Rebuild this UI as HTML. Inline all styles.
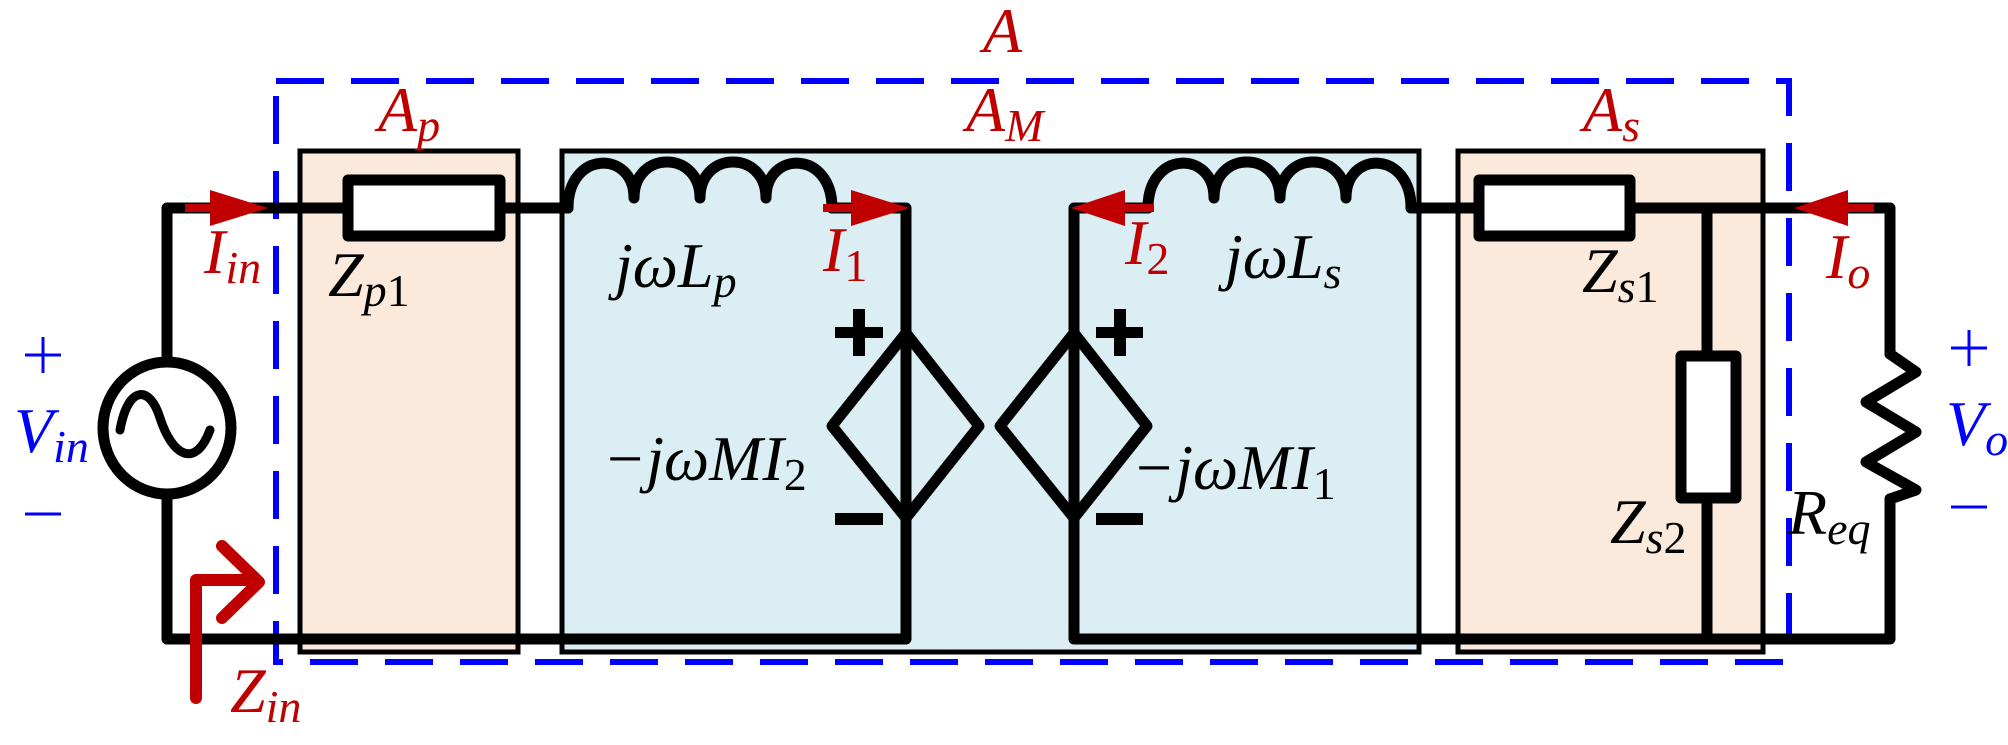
<!DOCTYPE html>
<html><head><meta charset="utf-8"><style>
html,body{margin:0;padding:0;background:#fff;}
svg{display:block;}
svg text{font-family:"Liberation Serif","DejaVu Serif",serif;}
</style></head><body>
<svg width="2008" height="745" viewBox="0 0 2008 745" xmlns="http://www.w3.org/2000/svg">
<rect x="300" y="151" width="218" height="501" fill="#fbe9dc" stroke="#000" stroke-width="5"/>
<rect x="562" y="151" width="857" height="501" fill="#dbeef4" stroke="#000" stroke-width="5"/>
<rect x="1458" y="151" width="305" height="501" fill="#fbe9dc" stroke="#000" stroke-width="5"/>
<rect x="276" y="81" width="1513" height="581" fill="none" stroke="#0000ff" stroke-width="6" stroke-dasharray="48,27"/>
<g stroke="#000" stroke-width="11" fill="none" stroke-linecap="round" stroke-linejoin="round">
<polyline points="167,361 167,208 348,208"/>
<line x1="500" y1="208" x2="568" y2="208"/>
<path d="M568,208 C568,150 634,150 634,198 C634,150 700,150 700,198 C700,150 766,150 766,198 C766,150 832,150 832,208"/>
<polyline points="832,208 906,208 906,639 167,639 167,494"/>
<rect x="348" y="180" width="152" height="56" fill="#fff"/>
<ellipse cx="167" cy="428" rx="64" ry="66" fill="#fff"/>
<path d="M120,430 C128,385 150,385 160,418 C172,455 195,470 210,430" stroke-width="9"/>
<polygon points="906,333 979,426 906,518 832,426"/>
<polyline points="1148,208 1074,208 1074,639 1890,639 1890,499"/>
<path d="M1148,208 C1148,150 1214,150 1214,198 C1214,150 1280,150 1280,198 C1280,150 1346,150 1346,198 C1346,150 1411,150 1411,208"/>
<line x1="1411" y1="208" x2="1479" y2="208"/>
<polyline points="1630,208 1890,208 1890,354"/>
<line x1="1707" y1="208" x2="1707" y2="352"/>
<line x1="1707" y1="499" x2="1707" y2="639"/>
<rect x="1479" y="180" width="151" height="56" fill="#fff"/>
<rect x="1681" y="356" width="55" height="142" fill="#fff"/>
<polygon points="1074,333 1147,426 1074,518 1000,426"/>
<polyline points="1890,354 1916,372 1866,402 1916,432 1866,462 1916,490 1890,499"/>
</g>
<g fill="#000">
<rect x="835" y="327" width="48" height="11"/><rect x="853" y="309" width="12" height="47"/>
<rect x="835" y="513" width="48" height="12"/>
<rect x="1096" y="327" width="47" height="11"/><rect x="1114" y="309" width="12" height="47"/>
<rect x="1096" y="513" width="47" height="12"/>
</g>
<g stroke="#c00000" stroke-width="8" fill="#c00000">
<line x1="185" y1="208" x2="215" y2="208"/>
<polygon points="210,190 268,208 210,226" stroke="none"/>
<line x1="823" y1="208" x2="855" y2="208"/>
<polygon points="851,190 909,208 851,226" stroke="none"/>
<line x1="1120" y1="208" x2="1154" y2="208"/>
<polygon points="1125,190 1071,208 1125,226" stroke="none"/>
<line x1="1840" y1="208" x2="1874" y2="208"/>
<polygon points="1848,190 1794,208 1848,226" stroke="none"/>
</g>
<g stroke="#c00000" stroke-width="12" fill="none" stroke-linecap="round" stroke-linejoin="round">
<polyline points="196,698 196,580 256,580"/>
<polyline points="222,546 259,582 222,618"/>
</g>
<!-- blue +/- -->
<g stroke="#0000ff" stroke-width="3">
<line x1="25" y1="355" x2="61" y2="355"/><line x1="43" y1="337" x2="43" y2="373"/>
<line x1="25" y1="514" x2="61" y2="514"/>
<line x1="1951" y1="348" x2="1987" y2="348"/><line x1="1969" y1="330" x2="1969" y2="366"/>
<line x1="1951" y1="507" x2="1987" y2="507"/>
</g>
<g fill="#c00000" font-size="64" font-style="italic">
<text x="983" y="52">A</text>
<text x="378" y="131">A<tspan font-size="46" dy="10">p</tspan></text>
<text x="966" y="131">A<tspan font-size="46" dy="10">M</tspan></text>
<text x="1583" y="131">A<tspan font-size="46" dy="10">s</tspan></text>
<text x="204" y="273">I<tspan font-size="46" dy="10">in</tspan></text>
<text x="823" y="271">I<tspan font-size="46" dy="10" font-style="normal">1</tspan></text>
<text x="1125" y="264">I<tspan font-size="46" dy="10" font-style="normal">2</tspan></text>
<text x="1826" y="278">I<tspan font-size="46" dy="10">o</tspan></text>
<text x="230" y="712">Z<tspan font-size="46" dy="10">in</tspan></text>
</g>
<g fill="#000" font-size="64" font-style="italic">
<text x="328" y="296">Z<tspan font-size="46" dy="10">p</tspan><tspan font-size="46" font-style="normal">1</tspan></text>
<text x="615" y="287">jωL<tspan font-size="46" dy="10">p</tspan></text>
<text x="603" y="480">−jωMI<tspan font-size="46" dy="10" font-style="normal">2</tspan></text>
<text x="1225" y="278">jωL<tspan font-size="46" dy="10">s</tspan></text>
<text x="1582" y="292">Z<tspan font-size="46" dy="10">s</tspan><tspan font-size="46" font-style="normal">1</tspan></text>
<text x="1132" y="489">−jωMI<tspan font-size="46" dy="10" font-style="normal">1</tspan></text>
<text x="1610" y="543">Z<tspan font-size="46" dy="10">s</tspan><tspan font-size="46" font-style="normal">2</tspan></text>
<text x="1788" y="534">R<tspan font-size="46" dy="10">eq</tspan></text>
</g>
<g fill="#0000ff" font-size="64" font-style="italic">
<text x="14" y="452">V<tspan font-size="46" dy="10">in</tspan></text>
<text x="1946" y="445">V<tspan font-size="46" dy="10">o</tspan></text>
</g>
</svg>
</body></html>
